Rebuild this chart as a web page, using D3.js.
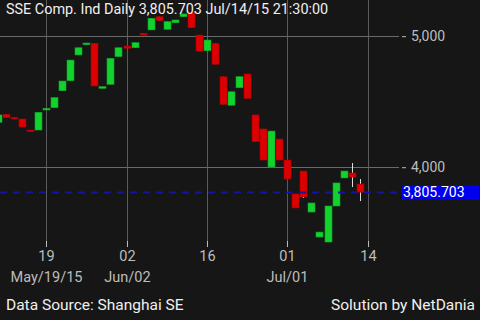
<!DOCTYPE html>
<html><head><meta charset="utf-8">
<script src="https://cdn.jsdelivr.net/npm/d3@7"></script>
<style>
html,body{margin:0;padding:0;background:#161616;}
svg{display:block;font-family:Roboto,"Noto Sans",sans-serif;}
</style></head><body><svg id="c" width="480" height="320"></svg>
<script>
const opens  = [4339,4400,4376,4364,4280,4280,4433,4450,4580,4656,4853,4931,4942,4598,4629,4840,4921,4908,5018,5044,5145,5049,5099,5145,5176,5005,4885,4942,4687,4469,4603,4708,4395,4288,3998,4211,4051,3792,3967,3654,3463,3425,3700,3914,3952,3868];
const closes = [4395,4374,4364,4303,4267,4415,4446,4527,4654,4814,4908,4944,4616,4611,4827,4908,4904,4947,5005,5133,5115,5107,5120,5166,5061,4883,4967,4782,4476,4572,4687,4522,4191,4051,4272,4051,3906,3685,3769,3723,3501,3700,3876,3967,3921,3805.703];
const highs  = [4395,4400,4376,4364,4280,4415,4446,4527,4654,4814,4908,4944,4942,4611,4827,4908,4921,4947,5018,5133,5145,5107,5120,5166,5176,5005,4967,4942,4687,4572,4687,4708,4395,4288,4272,4211,4051,3792,3967,3723,3501,3700,3876,3967,4028,3906];
const lows   = [4339,4374,4364,4303,4267,4280,4433,4450,4580,4656,4853,4931,4616,4598,4629,4840,4904,4908,5005,5044,5115,5049,5099,5145,5061,4883,4885,4782,4476,4469,4603,4522,4191,4051,3998,4051,3906,3685,3761,3654,3463,3425,3700,3914,3845,3738];
const xTickIdx    = [6, 16, 26, 36, 46];
const xTickDays   = ["19", "02", "16", "01", "14"];
const xTickMonths = ["May/19/15", "Jun/02", "", "Jul/01", ""];
const yTicks = [4000, 5000];
const lastValue = 3805.703;
const titleText = "SSE Comp. Ind Daily 3,805.703 Jul/14/15 21:30:00";
const sourceText = "Data Source: Shanghai SE";
const creditText = "Solution by NetDania";

const svg = d3.select("#c");
const W = 480, H = 320;
svg.append("rect").attr("width", W).attr("height", H).attr("fill", "#161616");

const x = d3.scaleLinear().domain([0, opens.length - 1]).range([-2.1, 359.7]);
const y = d3.scaleLinear().domain([4000, 5000]).range([166.7, 35.7]);
const plotRight = 399, plotBottom = 241;

// vertical grid
svg.append("g").selectAll("line").data(xTickIdx).join("line")
  .attr("x1", d => Math.round(x(d)) + 0.5).attr("x2", d => Math.round(x(d)) + 0.5)
  .attr("y1", 0).attr("y2", plotBottom)
  .attr("stroke", "#5a5a5a").attr("stroke-width", 1);
// horizontal grid
svg.append("g").selectAll("line").data(yTicks).join("line")
  .attr("x1", 0).attr("x2", plotRight)
  .attr("y1", d => Math.round(y(d)) + 0.5).attr("y2", d => Math.round(y(d)) + 0.5)
  .attr("stroke", "#6a6a6a").attr("stroke-width", 1);

// candles
const idx = d3.range(opens.length);
const cg = svg.append("g");
cg.selectAll("line.wick").data(idx).join("line").attr("class", "wick")
  .attr("x1", i => Math.round(x(i)) + 0.5).attr("x2", i => Math.round(x(i)) + 0.5)
  .attr("y1", i => y(highs[i])).attr("y2", i => y(lows[i]))
  .attr("stroke", "#dddddd").attr("stroke-width", 1);
cg.selectAll("rect").data(idx).join("rect")
  .attr("x", i => Math.round(x(i)) - 3)
  .attr("width", 7)
  .attr("y", i => Math.min(y(opens[i]), y(closes[i])))
  .attr("height", i => Math.max(Math.abs(y(opens[i]) - y(closes[i])), 1.6))
  .attr("fill", i => closes[i] >= opens[i] ? "#12d22e" : "#dc0000")
  .attr("stroke", i => closes[i] >= opens[i] ? "#0ea025" : "#a80000")
  .attr("stroke-width", 0.6);

// last value dashed line
svg.append("line")
  .attr("x1", 0).attr("x2", plotRight + 2)
  .attr("y1", Math.round(y(lastValue)) + 0.5).attr("y2", Math.round(y(lastValue)) + 0.5)
  .attr("stroke", "#14149c").attr("stroke-width", 2).attr("stroke-dasharray", "7,6");

// y axis (right)
const yAxis = d3.axisRight(y).tickValues(yTicks).tickSize(4).tickPadding(5)
  .tickFormat(d3.format(",.0f"));
const ya = svg.append("g").attr("transform", `translate(${plotRight + 3},0.5)`).call(yAxis);
ya.select(".domain").remove();
ya.selectAll("line").attr("stroke", "#bbbbbb");
ya.selectAll("text").attr("fill", "#bdbdbd").attr("font-size", 14).attr("font-family", "Roboto");

// last value label
const ly = y(lastValue);
svg.append("rect").attr("x", 402).attr("y", ly - 7).attr("width", 77).attr("height", 14.5).attr("fill", "#0000ee");
svg.append("text").attr("x", 403).attr("y", ly + 5).attr("fill", "#ffffff")
  .attr("font-size", 14).text(d3.format(",.3f")(lastValue));

// x axis
const xAxis = d3.axisBottom(x).tickValues(xTickIdx).tickSize(6).tickPadding(4)
  .tickFormat((d, i) => xTickDays[i]);
const xa = svg.append("g").attr("transform", `translate(0.5,${plotBottom})`).call(xAxis);
xa.select(".domain").remove();
xa.selectAll(".tick").attr("transform", d => `translate(${Math.round(x(d))},0)`);
xa.selectAll("line").attr("stroke", "#bbbbbb");
xa.selectAll("text").attr("fill", "#bdbdbd").attr("font-size", 14.5).attr("font-family", "Roboto");

svg.append("g").selectAll("text").data(xTickIdx).join("text")
  .attr("x", d => Math.round(x(d)) + 0.5).attr("y", 282)
  .attr("text-anchor", "middle").attr("fill", "#bdbdbd").attr("font-size", 14.5)
  .text((d, i) => xTickMonths[i]);

// title + footer
svg.append("text").attr("x", 6).attr("y", 14).attr("fill", "#f0f0f0").attr("font-size", 14.4).text(titleText);
svg.append("text").attr("x", 6).attr("y", 310).attr("fill", "#f0f0f0").attr("font-size", 15.5).text(sourceText);
svg.append("text").attr("x", 475).attr("y", 310).attr("text-anchor", "end").attr("fill", "#f0f0f0").attr("font-size", 15.5).text(creditText);
</script></body></html>
